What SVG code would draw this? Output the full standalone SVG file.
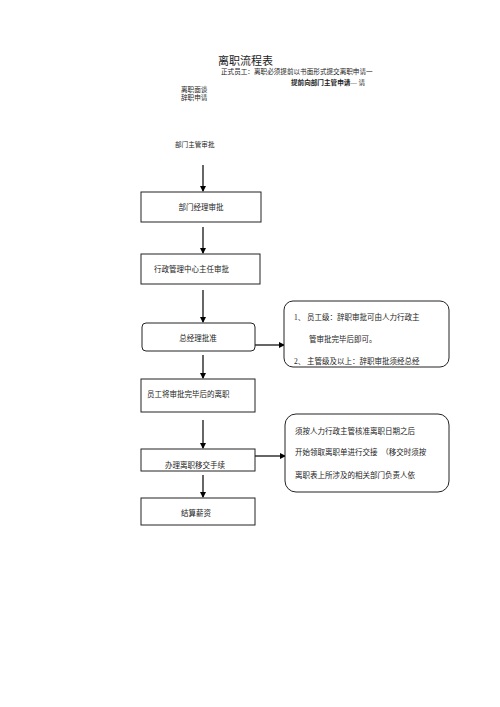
<svg xmlns="http://www.w3.org/2000/svg" width="500" height="707" viewBox="0 0 500 707">
<defs>
<marker id="ah" markerWidth="6" markerHeight="6" refX="5" refY="3" orient="auto" markerUnits="userSpaceOnUse">
<path d="M0,0 L6,3 L0,6 z" fill="#000"/>
</marker>
<style>
text{font-family:"Liberation Serif","Noto Sans CJK SC",serif;fill:#222;}
.t{font-size:7.5px;}
.s{font-size:6.6px;}
.box{fill:#fff;stroke:#222;stroke-width:1;}
.ln{stroke:#000;stroke-width:1.2;fill:none;marker-end:url(#ah);}
</style>
</defs>
<rect width="500" height="707" fill="#fff"/>
<g id="header">
<text x="218" y="65" style="font-size:11px">离职流程表</text>
<text x="221" y="74" class="s">正式员工：离职必须提前以书面形式提交离职申请一</text>
<text x="291" y="85" class="s"><tspan font-weight="bold">提前向部门主管申请</tspan>— 请</text>
<text x="181" y="92" class="s">离职面谈</text>
<text x="181" y="100" class="s">辞职申请</text>
<text x="175" y="147" class="s">部门主管审批</text>
</g>
<g id="connectors">
<line class="ln" x1="203" y1="165" x2="203" y2="191"/>
<line class="ln" x1="203" y1="227" x2="203" y2="253"/>
<line class="ln" x1="203" y1="290" x2="203" y2="322"/>
<line class="ln" x1="203" y1="355" x2="203" y2="378"/>
<line class="ln" x1="203" y1="420" x2="203" y2="448"/>
<line class="ln" x1="203" y1="475" x2="203" y2="497"/>
<line class="ln" x1="255" y1="345" x2="284" y2="345"/>
<line class="ln" x1="255" y1="456" x2="285" y2="456"/>
</g>
<g id="n1"><rect class="box" x="141" y="192" width="120" height="30"/><text x="201" y="210" class="t" text-anchor="middle">部门经理审批</text></g>
<g id="n2"><rect class="box" x="141" y="254" width="119" height="30"/><text x="154" y="272" class="t">行政管理中心主任审批</text></g>
<g id="n3"><rect class="box" x="142" y="323" width="113" height="28" rx="4"/><text x="198" y="341" class="t" text-anchor="middle">总经理批准</text></g>
<g id="n4"><rect class="box" x="141" y="379" width="114" height="33"/><text x="147" y="397" class="t">员工将审批完毕后的离职</text></g>
<g id="n5"><rect class="box" x="141" y="449" width="114" height="22"/><text x="195" y="468" class="t" text-anchor="middle">办理离职移交手续</text></g>
<g id="n6"><rect class="box" x="141" y="498" width="114" height="27"/><text x="196" y="516" class="t" text-anchor="middle">结算薪资</text></g>
<g id="note1"><rect class="box" x="284" y="301" width="165" height="66" rx="9"/>
<text x="294" y="320" class="t">1、 员工级：辞职审批可由人力行政主</text>
<text x="309" y="342" class="t">管审批完毕后即可。</text>
<text x="294" y="364" class="t">2、 主管级及以上：辞职审批须经总经</text></g>
<g id="note2"><rect class="box" x="285" y="414" width="164" height="78" rx="11"/>
<text x="295" y="434" class="t">须按人力行政主管核准离职日期之后</text>
<text x="295" y="455" class="t">开始领取离职单进行交接　（移交时须按</text>
<text x="295" y="478" class="t">离职表上所涉及的相关部门负责人依</text></g>
</svg>
